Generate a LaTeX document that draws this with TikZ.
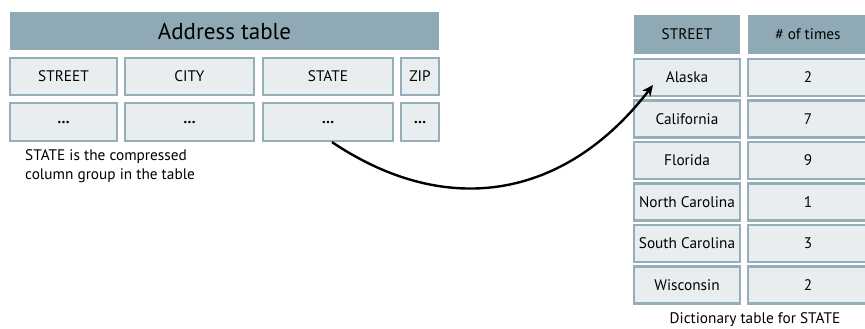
\documentclass[tikz,border=0pt]{standalone}
\usepackage{fontspec}
\setmainfont{PT Sans}
\usetikzlibrary{arrows.meta}
\definecolor{cellfill}{HTML}{E8EEEF}
\definecolor{cellline}{HTML}{95AEB7}
\definecolor{headfill}{HTML}{8FAAB4}
\tikzset{
  cell/.style={draw=cellline, fill=cellfill, line width=2.2pt, inner sep=0pt,
    font=\fontsize{15.3}{17}\selectfont, text=black},
  head/.style={fill=headfill, inner sep=0pt, text=black},
  note/.style={inner sep=0pt, font=\fontsize{15.3}{19}\selectfont, text=black},
  link/.style={line width=2.4pt, -{Stealth[length=11pt,width=10pt]}}
}
\begin{document}
\begin{tikzpicture}[x=1pt,y=-1pt]
\useasboundingbox (0,0) rectangle (865,329);

% Address table
\node[head, minimum width=429pt, minimum height=38pt, font=\fontsize{23}{26}\selectfont]
  (addr) at (224.5,31) {Address table};
\node[cell, minimum width=107pt, minimum height=37pt] (street) at (63.5,76.5) {STREET};
\node[cell, minimum width=129pt, minimum height=37pt] (city)   at (189.5,76.5) {CITY};
\node[cell, minimum width=130pt, minimum height=37pt] (state)  at (328,76.5) {STATE};
\node[cell, minimum width=38pt,  minimum height=37pt] (zip)    at (420,76.5) {ZIP};
\node[cell, minimum width=107pt, minimum height=38pt] (street2) at (63.5,122) {\bfseries …};
\node[cell, minimum width=129pt, minimum height=38pt] (city2)   at (189.5,122) {\bfseries …};
\node[cell, minimum width=130pt, minimum height=38pt] (state2)  at (328,122) {\bfseries …};
\node[cell, minimum width=38pt,  minimum height=38pt] (zip2)    at (420,122) {\bfseries …};
\node[note, anchor=north west, align=left] (cap1) at (25,149)
  {STATE is the compressed\\column group in the table};

% Dictionary table
\node[head, minimum width=106pt, minimum height=39pt, font=\fontsize{15.3}{17}\selectfont]
  (dkey) at (687,34.5) {STREET};
\node[head, minimum width=120pt, minimum height=39pt, font=\fontsize{15.3}{17}\selectfont]
  (dcnt) at (808,34.5) {\# of times};
\foreach \name/\cnt/\y [count=\i] in {Alaska/2/77.5, California/7/119, Florida/9/160.5,
    North Carolina/1/202, South Carolina/3/243.5, Wisconsin/2/285}{
  \node[cell, minimum width=106pt, minimum height=37pt] (k\i) at (687,\y) {\name};
  \node[cell, minimum width=120pt, minimum height=37pt] (c\i) at (808,\y) {\cnt};
}
\node[note] (cap2) at (755,320) {Dictionary table for STATE};

% Lookup arrow from the STATE column into the dictionary
\coordinate (tip) at (653,85);
\draw[link] ([xshift=4pt]state2.south) .. controls (448,220) and (566,198) .. (tip);
\end{tikzpicture}
\end{document}
